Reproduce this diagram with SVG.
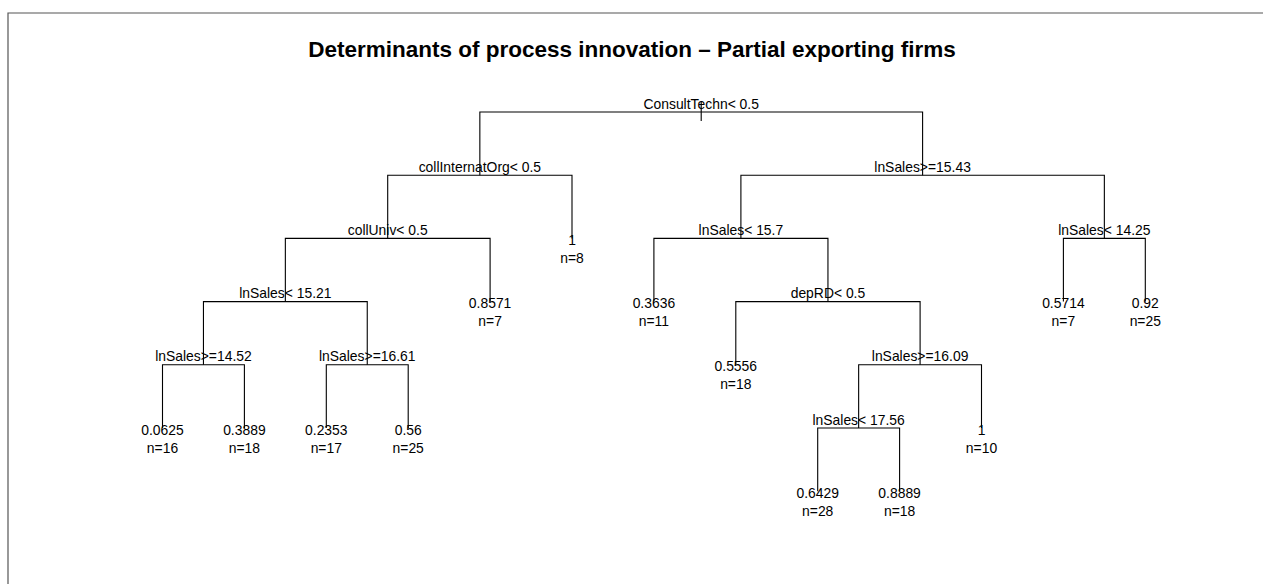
<svg xmlns="http://www.w3.org/2000/svg" width="1263" height="584" viewBox="0 0 1263 584">
<style>
text{font-family:"Liberation Sans",Arial,sans-serif;fill:#000}
.t{font-size:22.5px;font-weight:bold;text-anchor:middle}
.s{font-size:13.9px;text-anchor:middle}
.c{fill:none;stroke:#000;stroke-width:1.1}
.f{fill:none;stroke:#555;stroke-width:1.2}
</style>
<rect width="1263" height="584" fill="#fff"/>
<path class="f" d="M8 584 V13 H1263"/>
<text class="t" x="632" y="57">Determinants of process innovation – Partial exporting firms</text>
<g id="connectors">
<path class="c" d="M701.2 102 V121"/>
<path class="c" d="M479.85 175.2 V112 H922.6 V175.2"/>
<path class="c" d="M387.7 238.4 V175.2 H572 V238.4"/>
<path class="c" d="M740.9 238.4 V175.2 H1104.35 V238.4"/>
<path class="c" d="M285.35 301.6 V238.4 H490.1 V301.6"/>
<path class="c" d="M653.9 301.6 V238.4 H827.95 V301.6"/>
<path class="c" d="M1063.4 301.6 V238.4 H1145.3 V301.6"/>
<path class="c" d="M203.45 364.8 V301.6 H367.25 V364.8"/>
<path class="c" d="M735.8 364.8 V301.6 H920.1 V364.8"/>
<path class="c" d="M162.5 428 V364.8 H244.4 V428"/>
<path class="c" d="M326.3 428 V364.8 H408.2 V428"/>
<path class="c" d="M858.65 428 V364.8 H981.5 V428"/>
<path class="c" d="M817.7 491.2 V428 H899.6 V491.2"/>
</g>
<g id="n0"><text class="s" x="701.2" y="108.5">ConsultTechn&lt; 0.5</text></g>
<g id="n1"><text class="s" x="479.85" y="171.7">collInternatOrg&lt; 0.5</text></g>
<g id="n2"><text class="s" x="922.6" y="171.7">lnSales&gt;=15.43</text></g>
<g id="n3"><text class="s" x="387.7" y="234.9">collUniv&lt; 0.5</text></g>
<g id="n4"><text class="s" x="740.9" y="234.9">lnSales&lt; 15.7</text></g>
<g id="n5"><text class="s" x="1104.35" y="234.9">lnSales&lt; 14.25</text></g>
<g id="n6"><text class="s" x="285.35" y="298.1">lnSales&lt; 15.21</text></g>
<g id="n7"><text class="s" x="827.95" y="298.1">depRD&lt; 0.5</text></g>
<g id="n8"><text class="s" x="203.45" y="361.3">lnSales&gt;=14.52</text></g>
<g id="n9"><text class="s" x="367.25" y="361.3">lnSales&gt;=16.61</text></g>
<g id="n10"><text class="s" x="920.1" y="361.3">lnSales&gt;=16.09</text></g>
<g id="n11"><text class="s" x="858.65" y="424.5">lnSales&lt; 17.56</text></g>
<g id="leaf1"><text class="s" x="162.5" y="434.5">0.0625</text><text class="s" x="162.5" y="452.5">n=16</text></g>
<g id="leaf2"><text class="s" x="244.4" y="434.5">0.3889</text><text class="s" x="244.4" y="452.5">n=18</text></g>
<g id="leaf3"><text class="s" x="326.3" y="434.5">0.2353</text><text class="s" x="326.3" y="452.5">n=17</text></g>
<g id="leaf4"><text class="s" x="408.2" y="434.5">0.56</text><text class="s" x="408.2" y="452.5">n=25</text></g>
<g id="leaf5"><text class="s" x="490.1" y="308.1">0.8571</text><text class="s" x="490.1" y="326.1">n=7</text></g>
<g id="leaf6"><text class="s" x="572" y="244.9">1</text><text class="s" x="572" y="262.9">n=8</text></g>
<g id="leaf7"><text class="s" x="653.9" y="308.1">0.3636</text><text class="s" x="653.9" y="326.1">n=11</text></g>
<g id="leaf8"><text class="s" x="735.8" y="371.3">0.5556</text><text class="s" x="735.8" y="389.3">n=18</text></g>
<g id="leaf9"><text class="s" x="817.7" y="497.7">0.6429</text><text class="s" x="817.7" y="515.7">n=28</text></g>
<g id="leaf10"><text class="s" x="899.6" y="497.7">0.8889</text><text class="s" x="899.6" y="515.7">n=18</text></g>
<g id="leaf11"><text class="s" x="981.5" y="434.5">1</text><text class="s" x="981.5" y="452.5">n=10</text></g>
<g id="leaf12"><text class="s" x="1063.4" y="308.1">0.5714</text><text class="s" x="1063.4" y="326.1">n=7</text></g>
<g id="leaf13"><text class="s" x="1145.3" y="308.1">0.92</text><text class="s" x="1145.3" y="326.1">n=25</text></g>
</svg>
